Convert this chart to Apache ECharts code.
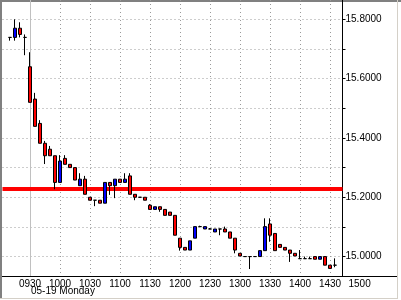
<!DOCTYPE html>
<html>
<head>
<meta charset="utf-8">
<script src="https://cdn.jsdelivr.net/npm/echarts@6/dist/echarts.min.js"></script>
<style>
html,body{margin:0;padding:0;background:#fff;}
#c{width:401px;height:300px;}
</style>
</head>
<body>
<div id="c"></div>
<script>
const times = ['0905','0910','0915','0920','0925','0930','0935','0940','0945','0950','0955',
'1000','1005','1010','1015','1020','1025','1030','1035','1040','1045','1050','1055',
'1100','1105','1110','1115','1120','1125','1130','1135','1140','1145','1150','1155',
'1200','1205','1210','1215','1220','1225','1230','1235','1240','1245','1250','1255',
'1300','1305','1310','1315','1320','1325','1330','1335','1340','1345','1350','1355',
'1400','1405','1410','1415','1420','1425','1430','1435','1440'];

const opens = [null,15.739,15.739,15.770,15.739,15.640,15.531,15.449,15.382,15.362,
15.340,15.250,15.331,15.311,15.300,15.239,15.261,15.200,15.190,15.190,
15.180,15.250,15.239,15.261,15.250,15.272,15.210,15.200,15.200,15.173,
15.159,15.168,15.159,15.150,15.139,15.062,15.031,15.022,15.062,15.101,
15.093,15.093,15.083,15.093,15.093,15.083,15.062,15.011,15.000,15.000,
15.000,15.000,15.020,15.110,15.078,15.041,15.031,15.022,15.011,14.993,
14.993,14.993,15.000,14.991,15.000,14.971,14.971,null];
const closes = [null,15.739,15.770,15.749,15.739,15.520,15.439,15.382,15.340,15.340,
15.250,15.322,15.311,15.300,15.258,15.261,15.210,15.190,15.190,15.180,
15.250,15.239,15.261,15.250,15.261,15.210,15.200,15.200,15.190,15.159,
15.168,15.159,15.139,15.139,15.072,15.031,15.022,15.053,15.101,15.101,
15.101,15.093,15.093,15.093,15.083,15.062,15.022,15.002,15.000,15.000,
15.000,15.020,15.101,15.072,15.020,15.031,15.022,15.011,15.002,14.993,
14.993,14.993,14.991,15.000,14.971,14.960,14.971,null];
const lows = [null,15.728,15.728,15.739,15.679,15.520,15.439,15.382,15.312,15.340,
15.227,15.250,15.311,15.300,15.258,15.239,15.210,15.190,15.170,15.180,
15.180,15.208,15.197,15.250,15.250,15.210,15.190,15.200,15.190,15.159,
15.159,15.151,15.139,15.139,15.072,15.020,15.022,15.022,15.062,15.101,
15.093,15.093,15.083,15.072,15.083,15.062,15.011,15.002,15.000,14.958,
15.000,15.000,15.020,15.050,15.020,15.031,15.022,14.982,15.002,14.993,
14.993,14.993,14.991,14.991,14.971,14.960,14.964,null];
const highs = [null,15.739,15.800,15.790,15.749,15.689,15.552,15.460,15.390,15.373,
15.340,15.342,15.342,15.311,15.300,15.281,15.272,15.200,15.190,15.190,
15.250,15.250,15.261,15.261,15.281,15.281,15.210,15.200,15.200,15.177,
15.168,15.168,15.159,15.150,15.139,15.062,15.031,15.053,15.101,15.104,
15.101,15.096,15.093,15.093,15.101,15.083,15.062,15.011,15.000,15.000,
15.000,15.020,15.129,15.129,15.078,15.041,15.031,15.022,15.011,15.022,
15.000,15.000,15.000,15.000,15.000,14.971,14.994,null];

const refLevel = 15.235;
const sessionOpen = '0930';
const yTicks = [15.0,15.1,15.2,15.3,15.4,15.5,15.6,15.7,15.8];
const yLabels = [15.0,15.2,15.4,15.6,15.8];
const extraTimeLabel = '1500';
const dateLabel = '05-19 Monday';

const candleData = opens.map((o,i)=> o==null ? '-' : [o, closes[i], lows[i], highs[i]]);
const isHalfHour = (v)=> String(v).slice(2)==='00' || String(v).slice(2)==='30';
const FONT = 'Liberation Sans, Arial, sans-serif';
const DOT = {color:'#9a9a9a',type:[1,3],width:1};

const chart = echarts.init(document.getElementById('c'), null, {renderer:'canvas'});
chart.setOption({
  animation:false,
  backgroundColor:'#fff',
  title:{text:dateLabel,left:31,top:286,padding:0,
    textStyle:{fontSize:10,fontWeight:'normal',color:'#000',fontFamily:FONT,lineHeight:10}},
  grid:{left:2.5,width:340,top:0,height:276,containLabel:false},
  xAxis:[{
    type:'category',data:times,boundaryGap:true,position:'bottom',
    axisLine:{show:true,lineStyle:{color:'#000',width:1}},
    axisTick:{show:false},
    axisLabel:{interval:(i,v)=>isHalfHour(v),color:'#000',fontSize:10,fontFamily:FONT,margin:3},
    splitLine:{show:true,alignWithLabel:true,interval:(i,v)=>isHalfHour(v) && v!==sessionOpen,lineStyle:DOT},
    name:extraTimeLabel,nameLocation:'end',nameGap:6,
    nameTextStyle:{color:'#000',fontSize:10,fontFamily:FONT,align:'left',verticalAlign:'top',padding:[3,0,0,0]}
  },{
    type:'category',data:times,boundaryGap:true,position:'top',
    axisLine:{show:false},axisTick:{show:false},axisLabel:{show:false},
    splitLine:{show:true,alignWithLabel:true,interval:(i,v)=>v===sessionOpen,
      lineStyle:{color:'#c0c0c0',type:'solid',width:1}}
  }],
  yAxis:{
    type:'value',position:'right',min:14.9345,max:15.8651,
    axisLine:{show:true,lineStyle:{color:'#000',width:1}},
    axisTick:{show:true,inside:false,length:3,customValues:yTicks,lineStyle:{color:'#000'}},
    axisLabel:{customValues:yLabels,formatter:(v)=>v.toFixed(4),color:'#000',fontSize:10,fontFamily:FONT,margin:3},
    splitLine:{show:true,lineStyle:DOT}
  },
  series:[{
    type:'line',data:[],z:1,xAxisIndex:0,
    markLine:{silent:true,symbol:['none','none'],z:1,label:{show:false},
      data:[{yAxis:refLevel,lineStyle:{color:'#ff0000',width:4,type:'solid'}}]}
  },{
    type:'candlestick',data:candleData,z:3,barWidth:3,xAxisIndex:0,
    itemStyle:{color:'#0000ff',color0:'#ff0000',borderColor:'#000',borderColor0:'#000',borderColorDoji:'#000',borderWidth:1}
  }],
  graphic:[
    {type:'line',shape:{x1:0,y1:276.5,x2:3,y2:276.5},style:{stroke:'#000',lineWidth:1},silent:true},
    {type:'line',shape:{x1:342,y1:276.5,x2:397,y2:276.5},style:{stroke:'#000',lineWidth:1},silent:true},
    {type:'line',shape:{x1:0,y1:1,x2:401,y2:1},style:{stroke:'#808080',lineWidth:2},silent:true},
    {type:'line',shape:{x1:1,y1:0,x2:1,y2:299},style:{stroke:'#808080',lineWidth:2},silent:true},
    {type:'line',shape:{x1:397.5,y1:0,x2:397.5,y2:298.5},style:{stroke:'#d4d0c8',lineWidth:1},silent:true},
    {type:'line',shape:{x1:0,y1:298.5,x2:398,y2:298.5},style:{stroke:'#d4d0c8',lineWidth:1},silent:true}
  ]
});
</script>
</body>
</html>
